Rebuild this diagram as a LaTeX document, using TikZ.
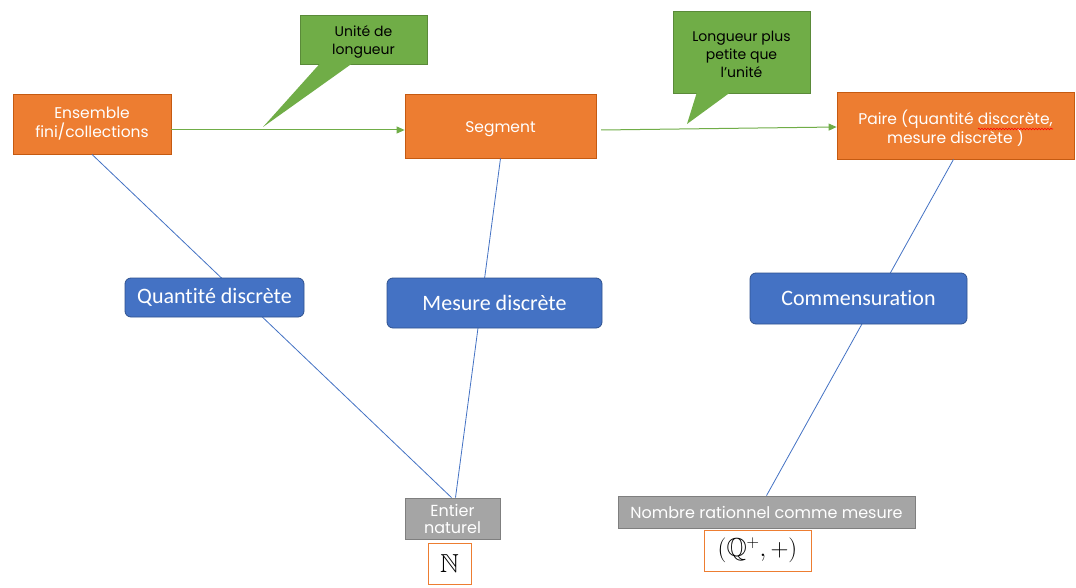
\documentclass[tikz,border=0pt]{standalone}
\usepackage{amssymb}
\usepackage{fontspec}
\setmainfont{Poppins}
\newfontfamily\carlitofont[Ligatures=NoCommon]{Carlito}
\usetikzlibrary{arrows.meta,calc,decorations.pathmorphing}
\definecolor{orfill}{HTML}{ED7D31}
\definecolor{ordraw}{HTML}{C55A11}
\definecolor{grfill}{HTML}{70AD47}
\definecolor{blfill}{HTML}{4472C4}
\definecolor{bldraw}{HTML}{2F528F}
\definecolor{gyfill}{HTML}{A5A5A5}
\definecolor{gydraw}{HTML}{7F7F7F}
\tikzset{
  orbox/.style={fill=orfill,draw=ordraw,line width=0.8pt,text=white,align=center,inner sep=0pt,font=\fontsize{15.5}{19}\selectfont},
  ortext/.style={text=white,align=center,inner sep=0pt,font=\fontsize{15.5}{18}\selectfont},
  gnbox/.style={fill=grfill,draw=grfill!80!black,line width=0.5pt,inner sep=0pt},
  gntext/.style={text=black,align=center,inner sep=0pt,font=\fontsize{14}{18}\selectfont},
  blbox/.style={fill=blfill,draw=bldraw,line width=0.8pt,rounded corners=6pt,text=white,inner sep=0pt,font=\carlitofont\fontsize{22}{24}\selectfont},
  gybox/.style={fill=gyfill,draw=gydraw,line width=0.8pt,text=white,align=center,inner sep=0pt,font=\fontsize{16}{17}\selectfont},
  mathbox/.style={fill=white,draw=orfill,line width=1pt,inner sep=0pt,font=\fontsize{26}{27}\selectfont},
  link/.style={draw=blfill,line width=0.8pt},
  garrow/.style={draw=grfill,line width=1pt,-{Triangle[length=8pt,width=7pt]}},
  squiggle/.style={draw=red,line width=0.6pt,decorate,decoration={snake,amplitude=0.8pt,segment length=3pt}}
}
\begin{document}
\begin{tikzpicture}[x=1pt,y=-1pt]
\useasboundingbox[fill=white] (0,0) rectangle (1076,588);
% top boxes
\node[orbox,minimum width=158pt,minimum height=60pt] (ens) at (92,124) {Ensemble\\fini/collections};
\node[orbox,minimum width=191pt,minimum height=64pt] (seg) at (500.5,126) {};
\node[ortext] (segt) at (500.5,129) {Segment};
\node[orbox,minimum width=237pt,minimum height=67pt] (paire) at (955.5,125.5) {};
\node[ortext] (pairet) at (955.5,128) {Paire (quantité disccrète,\\mesure discrète )};
\coordinate (sq1) at (978,129);
\coordinate (sq2) at (1053,129);
\draw[squiggle] (sq1) -- (sq2);
% bottom boxes
\node[gybox,minimum width=95pt,minimum height=41pt] (ent) at (452.5,518.5) {Entier\\naturel};
\node[mathbox,minimum width=43pt,minimum height=41pt] (N) at (449.5,563.5) {$\mathbb{N}$};
\node[gybox,minimum width=297pt,minimum height=32pt] (rat) at (766.5,512) {Nombre rationnel comme mesure};
\node[mathbox,minimum width=107pt,minimum height=41pt] (Q) at (757.5,550.5) {$(\mathbb{Q}^{+},+)$};
% links
\draw[link] (ens.south) -- ($(ent.north)+(-1,0)$);
\draw[link] (seg.south) -- ($(ent.north)+(3,0)$);
\draw[link] ($(paire.south)+(-2,0)$) -- (rat.north);
% middle boxes
\node[blbox,minimum width=179pt,minimum height=39pt] (qd) at (214.5,297.5) {Quantité discrète};
\node[blbox,minimum width=215pt,minimum height=50pt] (md) at (494.5,303) {Mesure discrète};
\node[blbox,minimum width=217pt,minimum height=51pt] (com) at (858.5,298.5) {Commensuration};
% arrows
\draw[garrow] (ens.east |- 0,130) -- (seg.west |- 0,130);
\draw[garrow] (601,130) -- (paire.west |- 0,127);
% callouts
\node[gnbox,minimum width=127pt,minimum height=49pt] (c1) at (363.5,39.5) {};
\node[gntext] (c1t) at (363.5,42) {Unité de\\longueur};
\coordinate (t1) at (263,127);
\fill[grfill] ($(c1.south west)+(20,-0.5)$) -- (t1) -- ($(c1.south west)+(52,-0.5)$) -- cycle;
\node[gnbox,minimum width=137pt,minimum height=82pt] (c2) at (741.5,52) {};
\node[gntext] (c2t) at (741.5,54) {Longueur plus\\petite que\\l'unité};
\coordinate (t2) at (687,124);
\fill[grfill] ($(c2.south west)+(24,-0.5)$) -- (t2) -- ($(c2.south west)+(57,-0.5)$) -- cycle;
\end{tikzpicture}
\end{document}
